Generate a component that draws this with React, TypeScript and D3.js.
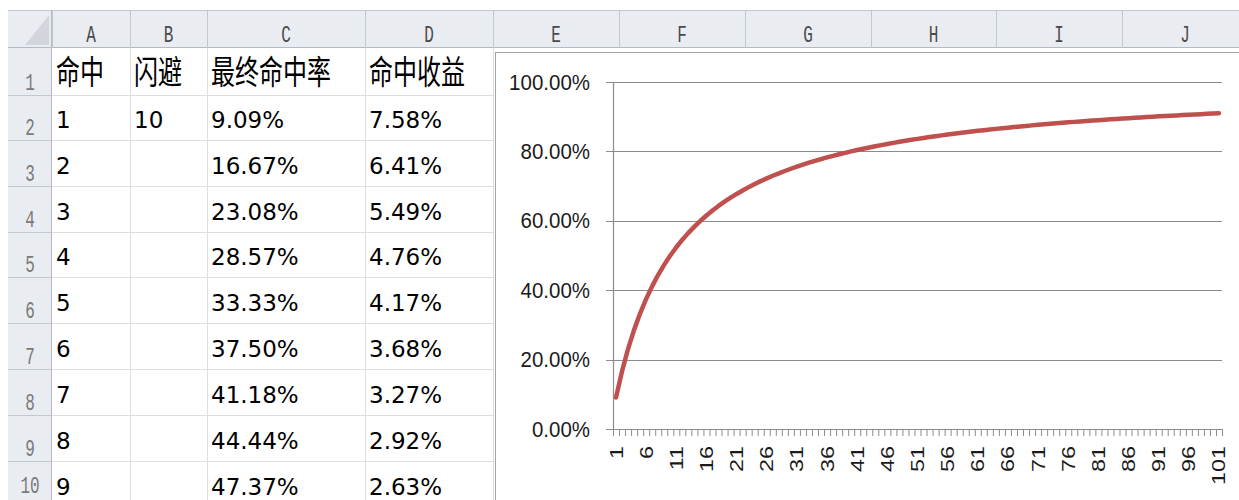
import React from "react";
import * as d3 from "d3";

// ---- data ----
const HIT_LEVELS = [
  1, 2, 3, 4, 5, 6, 7, 8, 9, 10, 11, 12, 13, 14, 15, 16, 17, 18, 19, 20,
  21, 22, 23, 24, 25, 26, 27, 28, 29, 30, 31, 32, 33, 34, 35, 36, 37, 38, 39, 40,
  41, 42, 43, 44, 45, 46, 47, 48, 49, 50, 51, 52, 53, 54, 55, 56, 57, 58, 59, 60,
  61, 62, 63, 64, 65, 66, 67, 68, 69, 70, 71, 72, 73, 74, 75, 76, 77, 78, 79, 80,
  81, 82, 83, 84, 85, 86, 87, 88, 89, 90, 91, 92, 93, 94, 95, 96, 97, 98, 99, 100, 101,
];
const FINAL_HIT_RATE = [
  0.0909, 0.1667, 0.2308, 0.2857, 0.3333, 0.375, 0.4118, 0.4444, 0.4737, 0.5,
  0.5238, 0.5455, 0.5652, 0.5833, 0.6, 0.6154, 0.6296, 0.6429, 0.6552, 0.6667,
  0.6774, 0.6875, 0.697, 0.7059, 0.7143, 0.7222, 0.7297, 0.7368, 0.7436, 0.75,
  0.7561, 0.7619, 0.7674, 0.7727, 0.7778, 0.7826, 0.7872, 0.7917, 0.7959, 0.8,
  0.8039, 0.8077, 0.8113, 0.8148, 0.8182, 0.8214, 0.8246, 0.8276, 0.8305, 0.8333,
  0.8361, 0.8387, 0.8413, 0.8438, 0.8462, 0.8485, 0.8507, 0.8529, 0.8551, 0.8571,
  0.8592, 0.8611, 0.863, 0.8649, 0.8667, 0.8684, 0.8701, 0.8718, 0.8734, 0.875,
  0.8765, 0.878, 0.8795, 0.881, 0.8824, 0.8837, 0.8851, 0.8864, 0.8876, 0.8889,
  0.8901, 0.8913, 0.8925, 0.8936, 0.8947, 0.8958, 0.8969, 0.898, 0.899, 0.9,
  0.901, 0.902, 0.9029, 0.9038, 0.9048, 0.9057, 0.9065, 0.9074, 0.9083, 0.9091, 0.9099,
];
const Y_TICKS = [0, 0.2, 0.4, 0.6, 0.8, 1.0];
const X_LABEL_EVERY = 5;

const COL_LETTERS = ["A", "B", "C", "D", "E", "F", "G", "H", "I", "J"];
const ROW_NUMBERS = ["1", "2", "3", "4", "5", "6", "7", "8", "9", "10"];
const HEADER_ROW = ["命中", "闪避", "最终命中率", "命中收益"];
const TABLE_HIT = ["1", "2", "3", "4", "5", "6", "7", "8", "9"];
const TABLE_DODGE = ["10"];
const TABLE_RATE = ["9.09%", "16.67%", "23.08%", "28.57%", "33.33%", "37.50%", "41.18%", "44.44%", "47.37%"];
const TABLE_GAIN = ["7.58%", "6.41%", "5.49%", "4.76%", "4.17%", "3.68%", "3.27%", "2.92%", "2.63%"];

// ---- layout ----
const W = 1239;
const H = 500;
const COL_EDGES = [8, 52, 130, 207, 365, 493, 619, 745, 871, 996, 1122, 1248];
const ROW_EDGES = [10, 48, 95, 140, 186, 232, 277, 323, 369, 415, 461, 507];
const CHART_X = 495;
const CHART_Y = 52;
const PLOT = { left: 613, right: 1222, top: 82, bottom: 429 };

const HEADER_BG = "#e9ecf0";
const HEADER_LINE = "#c3c8cf";
const CELL_LINE = "#dcdee1";

export default function App() {
  const x = d3
    .scaleBand<string>()
    .domain(HIT_LEVELS.map(String))
    .range([PLOT.left, PLOT.right])
    .paddingInner(0)
    .paddingOuter(0);
  const y = d3.scaleLinear().domain([0, 1]).range([PLOT.bottom, PLOT.top]);
  const bw = x.bandwidth();

  const points = HIT_LEVELS.map((h, i) => ({ h, v: FINAL_HIT_RATE[i] }));
  const line = d3
    .line<{ h: number; v: number }>()
    .x((d) => (x(String(d.h)) as number) + bw / 2)
    .y((d) => y(d.v));

  const tickXs = HIT_LEVELS.map((h) => x(String(h)) as number).concat([PLOT.right]);
  const pct = d3.format(".2%");

  const tableCols = [TABLE_HIT, TABLE_DODGE, TABLE_RATE, TABLE_GAIN];

  return (
    <svg
      width={W}
      height={H}
      style={{ position: "absolute", left: 0, top: 0, background: "#fff" }}
    >
      <rect x={0} y={0} width={W} height={H} fill="#fff" />

      {/* column header row */}
      <rect x={COL_EDGES[0]} y={ROW_EDGES[0]} width={W - COL_EDGES[0]} height={ROW_EDGES[1] - ROW_EDGES[0]} fill={HEADER_BG} />
      <line x1={COL_EDGES[0]} x2={W} y1={ROW_EDGES[0] + 0.5} y2={ROW_EDGES[0] + 0.5} stroke={HEADER_LINE} />
      <line x1={COL_EDGES[0]} x2={W} y1={ROW_EDGES[1] - 0.5} y2={ROW_EDGES[1] - 0.5} stroke="#b5bac2" />
      {/* corner triangle */}
      <path
        d={`M${COL_EDGES[1] - 3},${ROW_EDGES[0] + 5} L${COL_EDGES[1] - 3},${ROW_EDGES[1] - 3} L${COL_EDGES[1] - 27},${ROW_EDGES[1] - 3} Z`}
        fill="#d2d6dc"
      />
      {/* row header column */}
      <rect x={COL_EDGES[0]} y={ROW_EDGES[1]} width={COL_EDGES[1] - COL_EDGES[0]} height={H - ROW_EDGES[1]} fill={HEADER_BG} />
      <line x1={COL_EDGES[1] - 0.5} x2={COL_EDGES[1] - 0.5} y1={ROW_EDGES[0]} y2={H} stroke="#b5bac2" />

      {/* header vertical separators */}
      {COL_EDGES.slice(1, -1).map((cx, i) => (
        <line key={"hc" + i} x1={cx + 0.5} x2={cx + 0.5} y1={ROW_EDGES[0]} y2={ROW_EDGES[1]} stroke={HEADER_LINE} />
      ))}
      {/* row header separators */}
      {ROW_EDGES.slice(2).map((ry, i) => (
        <line key={"hr" + i} x1={COL_EDGES[0]} x2={COL_EDGES[1]} y1={ry + 0.5} y2={ry + 0.5} stroke={HEADER_LINE} />
      ))}
      {/* cell grid (left part) */}
      {ROW_EDGES.slice(2).map((ry, i) => (
        <line key={"cr" + i} x1={COL_EDGES[1]} x2={COL_EDGES[5]} y1={ry + 0.5} y2={ry + 0.5} stroke={CELL_LINE} />
      ))}
      {COL_EDGES.slice(2, 6).map((cx, i) => (
        <line key={"cc" + i} x1={cx + 0.5} x2={cx + 0.5} y1={ROW_EDGES[1]} y2={H} stroke={CELL_LINE} />
      ))}

      {/* column letters */}
      {COL_LETTERS.map((c, i) => (
        <text
          key={"cl" + c}
          transform={`translate(${(COL_EDGES[i + 1] + COL_EDGES[i + 2]) / 2},${ROW_EDGES[1] - 6}) scale(1,1.55)`}
          textAnchor="middle"
          fontFamily="'Liberation Mono', monospace"
          fontSize={16}
          fill="#4a4a4a"
        >
          {c}
        </text>
      ))}
      {/* row numbers */}
      {ROW_NUMBERS.map((r, i) => (
        <text
          key={"rn" + r}
          transform={`translate(${(COL_EDGES[0] + COL_EDGES[1]) / 2},${Math.min(ROW_EDGES[i + 2] - 5, H - 7)}) scale(1,1.55)`}
          textAnchor="middle"
          fontFamily="'Liberation Mono', monospace"
          fontSize={16}
          fill="#7a7a7a"
        >
          {r}
        </text>
      ))}

      {/* header row text */}
      {HEADER_ROW.map((t, i) => (
        <text
          key={"hd" + i}
          transform={`translate(${COL_EDGES[i + 1] + 4},${ROW_EDGES[2] - 11}) scale(1,1.35)`}
          fontFamily="'Noto Sans CJK SC', sans-serif"
          fontSize={24}
          fill="#000"
        >
          {t}
        </text>
      ))}
      {/* table values */}
      {tableCols.map((col, ci) =>
        col.map((t, ri) => (
          <text
            key={"tv" + ci + "-" + ri}
            x={COL_EDGES[ci + 1] + 4}
            y={ROW_EDGES[ri + 3] - 12}
            fontFamily="'DejaVu Sans', sans-serif"
            fontSize={23}
            fill="#000"
          >
            {t}
          </text>
        ))
      )}

      {/* chart frame */}
      <rect x={CHART_X + 0.5} y={CHART_Y + 0.5} width={W} height={H} fill="#fff" stroke="#a6a6a6" />

      {/* gridlines */}
      {Y_TICKS.map((t) => (
        <line
          key={"g" + t}
          x1={PLOT.left - 7}
          x2={PLOT.right}
          y1={Math.round(y(t)) + 0.5}
          y2={Math.round(y(t)) + 0.5}
          stroke="#8c8c8c"
          strokeWidth={1.2}
        />
      ))}
      {/* y axis */}
      <line x1={PLOT.left + 0.5} x2={PLOT.left + 0.5} y1={PLOT.top} y2={PLOT.bottom} stroke="#8c8c8c" strokeWidth={1.2} />
      {Y_TICKS.map((t) => (
        <text
          key={"yl" + t}
          transform={`translate(${PLOT.left - 23},${y(t) + 7.5}) scale(1,1.12)`}
          textAnchor="end"
          fontFamily="'Liberation Sans', Arial, sans-serif"
          fontSize={20.5}
          fill="#1a1a1a"
        >
          {pct(t)}
        </text>
      ))}

      {/* x ticks */}
      {tickXs.map((tx, i) => (
        <line
          key={"xt" + i}
          x1={tx + 0.5}
          x2={tx + 0.5}
          y1={PLOT.bottom}
          y2={PLOT.bottom + 7}
          stroke="#8c8c8c"
          strokeWidth={1}
        />
      ))}
      {HIT_LEVELS.filter((_, i) => i % X_LABEL_EVERY === 0).map((h) => (
        <text
          key={"xl" + h}
          transform={`translate(${(x(String(h)) as number) + bw / 2 + 6.5},${PLOT.bottom + 17}) rotate(-90) scale(1.3,1)`}
          textAnchor="end"
          fontFamily="'Liberation Sans', Arial, sans-serif"
          fontSize={18}
          fill="#1a1a1a"
        >
          {String(h)}
        </text>
      ))}

      {/* series line */}
      <path
        d={line(points) || ""}
        fill="none"
        stroke="#c0504d"
        strokeWidth={4.5}
        strokeLinecap="round"
        strokeLinejoin="round"
      />
    </svg>
  );
}
